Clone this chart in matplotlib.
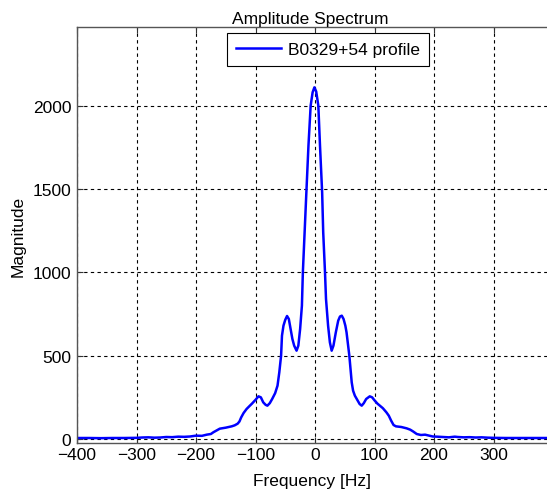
import matplotlib
matplotlib.use("Agg")
import matplotlib.pyplot as plt

freq = [-400, -380, -360, -340, -320, -300, -290, -280, -270, -260, -250, -240, -230,
        -220, -210, -200, -190, -182, -175, -171, -165, -160, -150, -140, -135, -130,
        -127, -124, -120, -115, -110, -106, -100, -95, -91, -87, -83, -80, -76, -72,
        -67, -63, -60, -57, -55.5, -53, -50, -47, -44, -41, -38, -35, -31, -28, -25,
        -22, -20.4, -17.7, -15, -11, -7.3, -4, -1, 2, 5.6, 8.4, 12, 13.8, 16.8, 18.5,
        22, 25, 28, 31, 35, 39, 42, 45, 48, 51, 53, 57.7, 61.7, 64, 67, 71, 75, 78.5,
        82, 86, 92, 96, 100, 105, 109, 114, 120, 124, 128, 132, 136, 145, 154, 160,
        165, 171, 178, 185, 192, 198, 205, 215, 225, 235, 240, 250, 260, 270, 280,
        290, 300, 320, 350, 380, 400]
mag = [6, 6, 5, 6, 6, 7, 9, 10, 8, 9, 12, 11, 14,
       13, 15, 20, 19, 26, 30, 40, 52, 62, 68, 76, 82, 92,
       105, 130, 156, 180, 198, 212, 235, 256, 250, 220, 205, 200, 215, 240,
       275, 320, 400, 500, 620, 680, 715, 738, 720, 660, 600, 560, 530, 560, 660,
       800, 1000, 1220, 1440, 1760, 2000, 2080, 2110, 2085, 2000, 1760, 1480, 1240, 1000, 840,
       680, 580, 530, 560, 640, 710, 735, 740, 720, 680, 640, 500, 340, 290, 260, 235, 210, 200,
       215, 240, 256, 250, 232, 212, 200, 185, 160, 140, 110, 84, 76, 72, 64, 56,
       45, 30, 24, 26, 20, 15, 14, 12, 10, 14, 12, 10, 11, 9, 10,
       8, 7, 6, 6, 6, 6]

xticks = [-400, -300, -200, -100, 0, 100, 200, 300]
yticks = [0, 500, 1000, 1500, 2000]

plt.rcParams['font.family'] = ['Liberation Sans', 'DejaVu Sans']
W, H = 547, 502
fig = plt.figure(figsize=(W / 100, H / 100), dpi=100)
L, R, T, B = 77, 553, 28, 444
ax = fig.add_axes([L / W, 1 - B / H, (R - L) / W, (B - T) / H])

ax.plot(freq, mag, color='#0000ff', lw=1.8, label='B0329+54 profile')
ax.set_xlim(-400, 400)
ax.set_ylim(-24, 2472)
ax.set_xticks(xticks)
ax.set_yticks(yticks)
ax.grid(True, color='black', linestyle=(0, (3, 3)), linewidth=0.8)
ax.tick_params(direction='in', labelsize=12.5, top=True, right=False, length=4,
               color='#333333', pad=4)
ax.tick_params(axis='x', pad=3)
for s in ax.spines.values():
    s.set_color('#555555')
    s.set_linewidth(1.0)
ax.set_title('Amplitude Spectrum', fontsize=12.5, pad=3, x=(310 - L) / (R - L))
ax.set_xlabel('Frequency [Hz]', fontsize=12.5, labelpad=2)
ax.xaxis.set_label_coords((311.5 - L) / (R - L), -0.072)
ax.set_ylabel('Magnitude', fontsize=12.5, labelpad=5)
leg = ax.legend(loc='upper center', bbox_to_anchor=((328 - L) / (R - L), 1 - 6 / (B - T)),
                fontsize=12.5, fancybox=False, framealpha=1, edgecolor='black',
                handlelength=2.6, borderpad=0.5, handletextpad=0.4, borderaxespad=0)
leg.get_frame().set_linewidth(0.8)
fig.savefig('out.png', dpi=100)
